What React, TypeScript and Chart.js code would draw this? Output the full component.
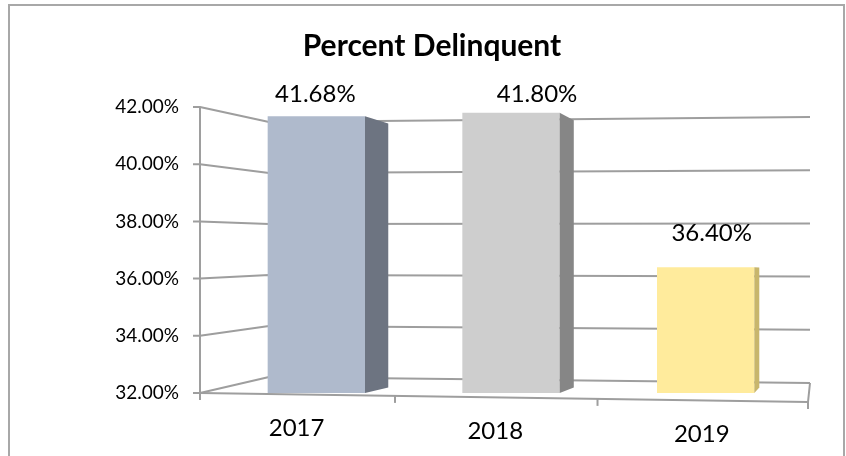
import React, { useEffect, useRef } from 'react';
import { Chart, registerables } from 'chart.js';

Chart.register(...registerables);

// ---- data ----
const chartTitle = 'Percent Delinquent';
const categories = ['2017', '2018', '2019'];
const delinquentPct = [41.68, 41.8, 36.4];
const valueLabels = ['41.68%', '41.80%', '36.40%'];
const yMin = 32;
const yMax = 42;
const yStep = 2;

// ---- styles ----
const frontColors = ['#AFBACC', '#CECECE', '#FFEB9C'];
const sideColors = ['#6D7481', '#868686', '#C8B66C'];
const gridColor = '#9E9E9E';
const FONT = 'Lato, "Open Sans", sans-serif';
// nudges of the value labels relative to each bar top (layout only)
const labelNudgeX = [-1, 26, 6];
const labelNudgeY = [-22, -18, -34];

const DEPTH = 0.047; // bar depth in perspective

const perspectivePlugin = {
  id: 'perspective3D',
  beforeDatasetsDraw(chart: any) {
    const { ctx, chartArea: ca, scales } = chart;
    const ys = scales.y;
    ctx.save();

    // outer frame
    ctx.strokeStyle = '#A8A8A8';
    ctx.lineWidth = 2;
    ctx.strokeRect(9, 5, 835, 480);

    // title
    ctx.fillStyle = '#000';
    ctx.font = `bold 30px ${FONT}`;
    ctx.textAlign = 'center';
    ctx.textBaseline = 'alphabetic';
    ctx.fillText(chartTitle, (ca.left + ca.right) / 2 - 79, 56);

    const frac = (v: number) => (ys.getPixelForValue(v) - ca.top) / (ca.bottom - ca.top);
    const xF = ca.left - 19;
    const xBL = ca.left + 50;
    const xBR = ca.right + 7;
    const yF = (v: number) => ys.getPixelForValue(v);
    const yBL = (v: number) => ca.top + 15 + frac(v) * (ca.bottom - 31 - ca.top);
    const yBR = (v: number) => ca.top + 10 + frac(v) * (ca.bottom - 20 - ca.top);
    const xFR = ca.right + 5;
    const yFR = ca.bottom + 9;

    ctx.strokeStyle = gridColor;
    ctx.lineWidth = 2;
    ctx.lineJoin = 'round';
    ys.ticks.forEach((t: any) => {
      const v = t.value;
      ctx.beginPath();
      ctx.moveTo(xF - 7, yF(v));
      ctx.lineTo(xF, yF(v));
      ctx.lineTo(xBL, yBL(v));
      ctx.lineTo(xBR, yBR(v));
      ctx.stroke();
    });

    // left axis
    ctx.beginPath();
    ctx.moveTo(xF, yF(yMax));
    ctx.lineTo(xF, yF(yMin) + 7);
    ctx.stroke();

    // floor front edge + right edge
    ctx.beginPath();
    ctx.moveTo(xF, yF(yMin));
    ctx.lineTo(xFR, yFR);
    ctx.stroke();
    ctx.beginPath();
    ctx.moveTo(xBR, yBR(yMin));
    ctx.lineTo(xFR, yFR);
    ctx.lineTo(xFR, yFR + 7);
    ctx.stroke();

    // category ticks along the front edge (projective spacing)
    const C = -0.0557;
    const A = xFR * (1 + C) - xF;
    const xFront = (u: number) => (A * u + xF) / (C * u + 1);
    const yEdge = (x: number) => yF(yMin) + ((x - xF) / (xFR - xF)) * (yFR - yF(yMin));
    const n = categories.length;
    for (let i = 1; i < n; i++) {
      const xx = xFront(i / n);
      ctx.beginPath();
      ctx.moveTo(xx, yEdge(xx));
      ctx.lineTo(xx, yEdge(xx) + 7);
      ctx.stroke();
    }

    // category labels
    ctx.fillStyle = '#000';
    ctx.font = `24px ${FONT}`;
    ctx.textAlign = 'center';
    ctx.textBaseline = 'middle';
    categories.forEach((c, i) => {
      const xx = xFront((i + 0.5) / n);
      ctx.fillText(c, xx, yEdge(xx) + 34);
    });
    ctx.restore();
  },
  afterDatasetsDraw(chart: any) {
    const { ctx, chartArea: ca } = chart;
    const meta = chart.getDatasetMeta(0);
    const vx = ca.right + 57;
    const vy = ca.top + 168;
    ctx.save();
    meta.data.forEach((bar: any, i: number) => {
      const xr = bar.x + bar.width / 2;
      const top = bar.y;
      const base = Math.min(bar.base, ca.bottom);
      const p = (x: number, y: number) => [x + DEPTH * (vx - x), y + DEPTH * (vy - y)];
      const [tx, ty] = p(xr, top);
      const [bx, by] = p(xr, base);
      ctx.fillStyle = sideColors[i];
      ctx.beginPath();
      ctx.moveTo(xr, top);
      ctx.lineTo(tx, ty);
      ctx.lineTo(bx, by);
      ctx.lineTo(xr, base);
      ctx.closePath();
      ctx.fill();

      ctx.fillStyle = '#000';
      ctx.font = `24px ${FONT}`;
      ctx.textAlign = 'center';
      ctx.textBaseline = 'middle';
      ctx.fillText(valueLabels[i], bar.x + labelNudgeX[i], top + labelNudgeY[i]);
    });
    ctx.restore();
  },
};

export default function App() {
  const ref = useRef<HTMLCanvasElement | null>(null);
  useEffect(() => {
    if (!ref.current) return;
    const chart = new Chart(ref.current, {
      type: 'bar',
      data: {
        labels: categories,
        datasets: [
          {
            data: delinquentPct,
            backgroundColor: frontColors,
            borderWidth: 0,
            categoryPercentage: 1,
            barPercentage: 0.5,
          },
        ],
      },
      options: {
        responsive: false,
        animation: false,
        devicePixelRatio: 1,
        layout: { padding: { left: 0, right: 43, top: 107, bottom: 63 } },
        plugins: { legend: { display: false }, tooltip: { enabled: false }, title: { display: false } },
        scales: {
          x: { display: false, offset: true, grid: { display: false } },
          y: {
            min: yMin,
            max: yMax,
            ticks: {
              stepSize: yStep,
              padding: 40,
              color: '#000',
              font: { family: FONT, size: 19 },
              callback: (v: any) => Number(v).toFixed(2) + '%',
            },
            grid: { display: false, drawTicks: false },
            border: { display: false },
            afterFit: (s: any) => {
              s.width = 219;
            },
          },
        },
      },
      plugins: [perspectivePlugin],
    });
    return () => chart.destroy();
  }, []);
  return (
    <div style={{ position: 'fixed', left: 0, top: 0, width: 846, height: 456, background: '#fff' }}>
      <canvas ref={ref} width={846} height={456} style={{ display: 'block' }} />
    </div>
  );
}
